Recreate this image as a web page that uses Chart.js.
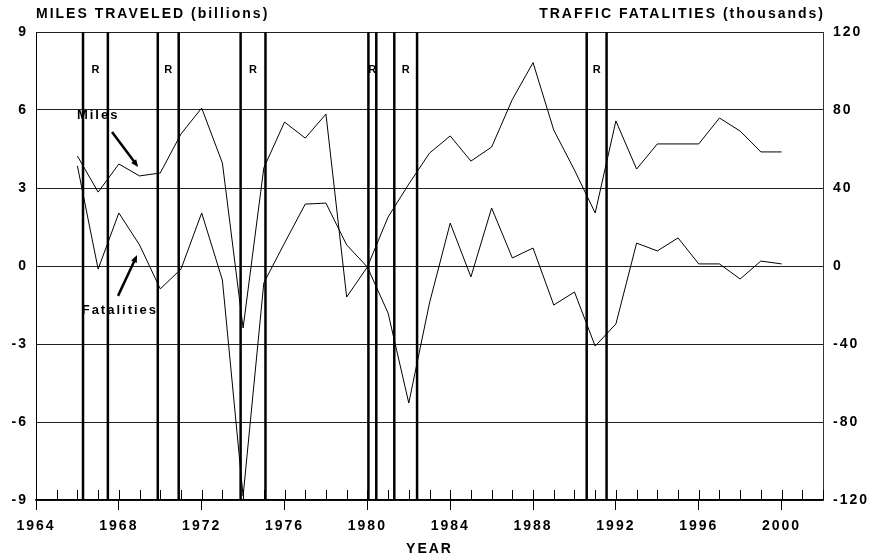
<!DOCTYPE html>
<html lang="en">
<head>
<meta charset="UTF-8">
<title>Miles Traveled and Traffic Fatalities</title>
<script src="https://cdn.jsdelivr.net/npm/chart.js"></script>
<style>
    body { margin: 0; background: #fff; }
    .wrap { width: 876px; height: 559px; position: relative; }
</style>
</head>
<body>
<div class="wrap"><canvas id="chart"></canvas></div>
<script>
    // annual change, 1966-2000
    const years = [1966, 1967, 1968, 1969, 1970, 1971, 1972, 1973, 1974, 1975,
                   1976, 1977, 1978, 1979, 1980, 1981, 1982, 1983, 1984, 1985,
                   1986, 1987, 1988, 1989, 1990, 1991, 1992, 1993, 1994, 1995,
                   1996, 1997, 1998, 1999, 2000];
    // upper line, read on the right-hand scale
    const milesChange = [56.4, 37.9, 52.3, 46.2, 47.7, 67.7, 81.0, 52.8, -31.8, 50.3,
                         73.8, 65.6, 77.9, -15.9, -0.5, 25.1, 42.0, 57.9, 66.7, 53.8,
                         61.0, 85.4, 104.3, 69.7, 49.2, 27.2, 74.4, 49.7, 62.6, 62.6,
                         62.6, 75.9, 69.2, 58.5, 58.5];
    // lower line, read on the left-hand scale
    const fatalitiesChange = [3.85, -0.12, 2.04, 0.81, -0.88, -0.12, 2.04, -0.54, -8.85, -0.65,
                              0.88, 2.38, 2.42, 0.81, -0.04, -1.81, -5.27, -1.42, 1.65, -0.42,
                              2.23, 0.31, 0.69, -1.5, -1.0, -3.08, -2.23, 0.88, 0.58, 1.08,
                              0.08, 0.08, -0.5, 0.19, 0.08];
    // recession bands (start, end)
    const recessions = [[1966.27, 1967.47], [1969.88, 1970.89], [1973.88, 1975.08],
                        [1980.05, 1980.43], [1981.30, 1982.40], [1990.59, 1991.55]];
    const yearTicks = [1964, 1968, 1972, 1976, 1980, 1984, 1988, 1992, 1996, 2000];
    const leftTicks = [-9, -6, -3, 0, 3, 6, 9];
    const rightTicks = [-120, -80, -40, 0, 40, 80, 120];

    const FONT = '"Liberation Sans", Arial, sans-serif';

    function arrow(ctx, x1, y1, x2, y2) {
        const ang = Math.atan2(y2 - y1, x2 - x1);
        const h = 8;
        ctx.beginPath();
        ctx.moveTo(x1, y1);
        ctx.lineTo(x2 - Math.cos(ang) * h * 0.6, y2 - Math.sin(ang) * h * 0.6);
        ctx.stroke();
        ctx.beginPath();
        ctx.moveTo(x2, y2);
        ctx.lineTo(x2 - h * Math.cos(ang - 0.4), y2 - h * Math.sin(ang - 0.4));
        ctx.lineTo(x2 - h * Math.cos(ang + 0.4), y2 - h * Math.sin(ang + 0.4));
        ctx.closePath();
        ctx.fill();
    }

    const decor = {
        id: 'decor',
        beforeDraw(chart) {
            chart.ctx.letterSpacing = '2px';
        },
        beforeDatasetsDraw(chart) {
            const { ctx, chartArea: a, scales: { x } } = chart;
            ctx.save();
            ctx.strokeStyle = '#000';
            // small year ticks above the axis
            ctx.lineWidth = 1;
            for (let yr = x.min; yr <= x.max; yr++) {
                const px = Math.round(x.getPixelForValue(yr)) + 0.5;
                ctx.beginPath();
                ctx.moveTo(px, a.bottom);
                ctx.lineTo(px, a.bottom - 10);
                ctx.stroke();
            }
            // recession lines
            ctx.lineWidth = 2.5;
            recessions.forEach(r => r.forEach(v => {
                const px = x.getPixelForValue(v);
                ctx.beginPath();
                ctx.moveTo(px, a.top);
                ctx.lineTo(px, a.bottom);
                ctx.stroke();
            }));
            ctx.restore();
        },
        afterDatasetsDraw(chart) {
            const { ctx, chartArea: a, scales: { x, y } } = chart;
            ctx.save();
            ctx.fillStyle = '#000';
            ctx.strokeStyle = '#000';
            ctx.textBaseline = 'middle';

            // R markers
            ctx.font = 'bold 11px ' + FONT;
            ctx.letterSpacing = '0px';
            ctx.textAlign = 'center';
            recessions.forEach(r => {
                ctx.fillText('R', x.getPixelForValue((r[0] + r[1]) / 2), y.getPixelForValue(7.54));
            });

            // axis titles
            ctx.font = 'bold 14px ' + FONT;
            ctx.letterSpacing = '2px';
            ctx.textAlign = 'left';
            ctx.fillText('MILES TRAVELED (billions)', a.left, 14);
            ctx.textAlign = 'right';
            ctx.fillText('TRAFFIC FATALITIES (thousands)', a.right + 2, 14);

            // series labels with arrows
            ctx.font = 'bold 13px ' + FONT;
            ctx.textAlign = 'center';
            ctx.fillText('Miles', x.getPixelForValue(1967.0), y.getPixelForValue(5.81));
            ctx.fillText('Fatalities', x.getPixelForValue(1968.05), y.getPixelForValue(-1.69));
            ctx.lineWidth = 2.5;
            arrow(ctx, x.getPixelForValue(1967.67), y.getPixelForValue(5.15),
                       x.getPixelForValue(1968.93), y.getPixelForValue(3.81));
            arrow(ctx, x.getPixelForValue(1967.96), y.getPixelForValue(-1.15),
                       x.getPixelForValue(1968.88), y.getPixelForValue(0.42));
            ctx.restore();
        }
    };

    const tickFont = { family: FONT, size: 14, weight: 'bold' };

    new Chart(document.getElementById('chart'), {
        type: 'line',
        data: {
            datasets: [{
                label: 'Miles',
                data: years.map((yr, i) => ({ x: yr, y: milesChange[i] })),
                yAxisID: 'y1',
                borderColor: '#000',
                borderWidth: 1,
                pointRadius: 0,
                tension: 0
            }, {
                label: 'Fatalities',
                data: years.map((yr, i) => ({ x: yr, y: fatalitiesChange[i] })),
                yAxisID: 'y',
                borderColor: '#000',
                borderWidth: 1,
                pointRadius: 0,
                tension: 0
            }]
        },
        options: {
            responsive: true,
            maintainAspectRatio: false,
            animation: false,
            layout: { padding: { top: 32, left: 0, right: 0, bottom: 0 } },
            plugins: {
                legend: { display: false },
                tooltip: { enabled: false }
            },
            scales: {
                x: {
                    type: 'linear',
                    min: 1964,
                    max: 2002,
                    afterBuildTicks: s => { s.ticks = yearTicks.map(v => ({ value: v })); },
                    afterFit: s => { s.height = 59; },
                    grid: { drawOnChartArea: false, drawTicks: true, tickLength: 10, color: '#000', lineWidth: 1 },
                    border: { display: true, color: '#000', width: 1.5 },
                    ticks: { color: '#000', font: tickFont, padding: 8, maxRotation: 0, autoSkip: false, callback: v => String(v) },
                    title: { display: true, text: 'YEAR', color: '#000', font: tickFont, padding: { top: 0, bottom: 1 } }
                },
                y: {
                    position: 'left',
                    min: -9,
                    max: 9,
                    afterBuildTicks: s => { s.ticks = leftTicks.map(v => ({ value: v })); },
                    afterFit: s => { s.width = 36; },
                    grid: { color: '#222', lineWidth: 1, drawTicks: false },
                    border: { display: true, color: '#000', width: 1 },
                    ticks: { color: '#000', font: tickFont, padding: 8, callback: v => String(v) }
                },
                y1: {
                    position: 'right',
                    min: -120,
                    max: 120,
                    afterBuildTicks: s => { s.ticks = rightTicks.map(v => ({ value: v })); },
                    afterFit: s => { s.width = 53; },
                    grid: { drawOnChartArea: false, drawTicks: false },
                    border: { display: true, color: '#333', width: 1 },
                    ticks: { color: '#000', font: tickFont, padding: 10, callback: v => String(v) }
                }
            }
        },
        plugins: [decor]
    });
</script>
</body>
</html>
